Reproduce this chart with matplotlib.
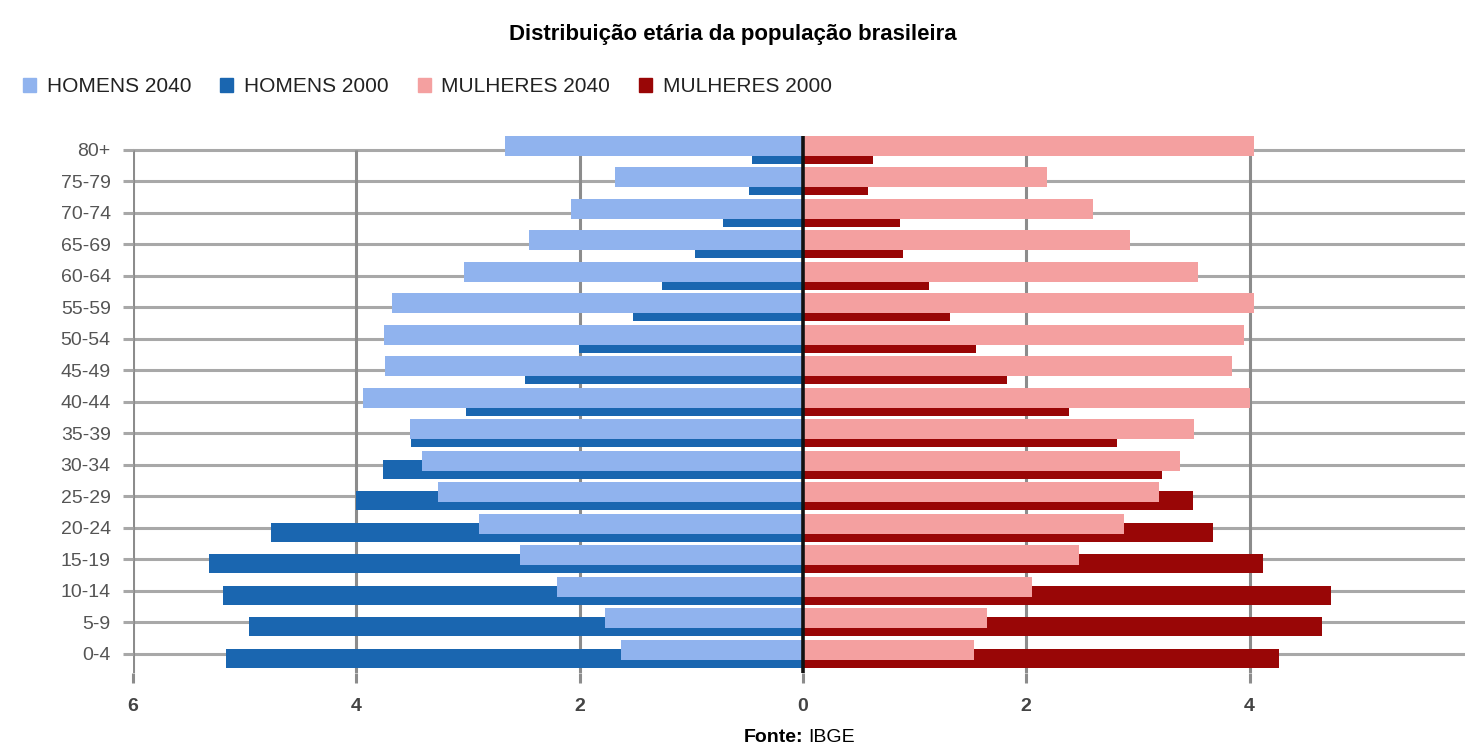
import matplotlib.pyplot as plt
from matplotlib.patches import Patch
import numpy as np

plt.rcParams['font.family'] = ['Liberation Sans', 'DejaVu Sans']

# age groups from youngest to oldest (oldest is drawn on top)
ages = ['0-4', '5-9', '10-14', '15-19', '20-24', '25-29', '30-34', '35-39',
        '40-44', '45-49', '50-54', '55-59', '60-64', '65-69', '70-74',
        '75-79', '80+']

# percentage of the population
homens_2040 = [1.63, 1.77, 2.20, 2.53, 2.90, 3.27, 3.41, 3.52, 3.94, 3.74,
               3.75, 3.68, 3.04, 2.45, 2.08, 1.68, 2.67]
homens_2000 = [5.17, 4.96, 5.19, 5.32, 4.76, 4.00, 3.76, 3.51, 3.02, 2.49,
               2.01, 1.52, 1.26, 0.97, 0.72, 0.48, 0.46]
mulheres_2040 = [1.53, 1.65, 2.05, 2.47, 2.88, 3.19, 3.38, 3.50, 4.00, 3.84,
                 3.95, 4.04, 3.54, 2.93, 2.60, 2.19, 4.04]
mulheres_2000 = [4.26, 4.65, 4.73, 4.12, 3.67, 3.49, 3.22, 2.81, 2.38, 1.83,
                 1.55, 1.32, 1.13, 0.90, 0.87, 0.58, 0.63]

x_ticks = [-6, -4, -2, 0, 2, 4]

c_h40 = '#90b3ee'
c_h00 = '#1a66b0'
c_m40 = '#f4a0a0'
c_m00 = '#990606'
grid_c = '#a8a8a8'

fig = plt.figure(figsize=(14.65, 7.51), dpi=100)
ax = fig.add_axes([0.0908, 0.104, 0.9092, 0.7152])

y = np.arange(len(ages))
off = 0.133

# 2000 bars sit a little lower, 2040 bars a little higher and on top
ax.barh(y - off, [-v for v in homens_2000], height=0.6, color=c_h00,
        zorder=2)
ax.barh(y - off, mulheres_2000, height=0.6, color=c_m00, zorder=2)
ax.barh(y + off, [-v for v in homens_2040], height=0.63, color=c_h40,
        zorder=3)
ax.barh(y + off, mulheres_2040, height=0.63, color=c_m40, zorder=3)

ax.set_xlim(-6, 5.93)
ax.set_ylim(-0.6, 16.45)

# grid
for yy in y:
    ax.axhline(yy, color=grid_c, lw=2.2, zorder=1)
ax.vlines([t for t in x_ticks if t != 0], -0.6, len(ages) - 1,
          color='#8c8c8c', lw=2.2, zorder=1)
ax.axvline(0, color='#111111', lw=2.6, zorder=4)

ax.set_yticks(y)
ax.set_yticklabels(ages, fontsize=14, color='#555555')
ax.set_xticks(x_ticks)
ax.set_xticklabels([str(abs(t)) for t in x_ticks], fontsize=14,
                   fontweight='bold', color='#444444')
ax.tick_params(axis='y', length=7, width=2.2, color=grid_c, pad=9)
ax.tick_params(axis='x', length=7, width=2.2, color='#8c8c8c', pad=11)
for s in ax.spines.values():
    s.set_visible(False)

fig.text(0.5, 0.954, 'Distribuição etária da população brasileira',
         ha='center', va='center', fontsize=16, fontweight='bold')

handles = [Patch(color=c_h40), Patch(color=c_h00),
           Patch(color=c_m40), Patch(color=c_m00)]
labels = ['HOMENS 2040', 'HOMENS 2000', 'MULHERES 2040', 'MULHERES 2000']
leg = fig.legend(handles, labels, ncol=4, loc='center left',
                 bbox_to_anchor=(23 / 1465, 1 - 87 / 751), frameon=False,
                 fontsize=15, handlelength=0.63, handleheight=0.63,
                 handletextpad=0.5, columnspacing=1.4, borderpad=0,
                 borderaxespad=0)
for t in leg.get_texts():
    t.set_color('#222222')

src = fig.text(803 / 1465, 0.018, 'Fonte:', ha='right', va='center',
               fontsize=14, fontweight='bold')
fig.text(808 / 1465, 0.018, 'IBGE', ha='left', va='center', fontsize=14)

fig.savefig('out.png', dpi=100)
